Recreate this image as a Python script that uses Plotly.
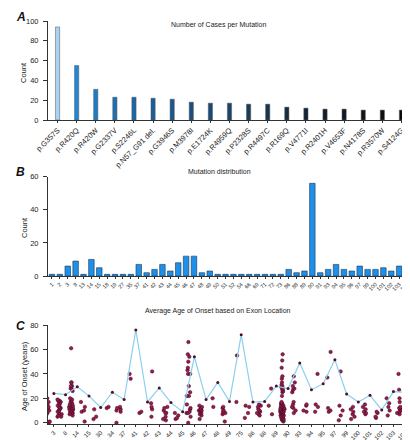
import plotly.graph_objects as go

# ---------------- Panel A data ----------------
mutations = ["p.G357S", "p.R420Q", "p.R420W", "p.G2337V", "p.S2246L", "p.N57_G91 del.",
             "p.G3946S", "p.M3978I", "p.E1724K", "p.R4959Q", "p.P2328S", "p.R4497C",
             "p.R169Q", "p.V4771I", "p.R2401H", "p.V4653F", "p.N4178S", "p.R3570W", "p.S4124G"]
cases = [94, 55, 31, 23, 23, 22, 21, 18, 17, 17, 16, 16, 13, 12, 11, 11, 10, 10, 10]

# ---------------- Panel B data ----------------
exons_b = ["1", "2", "3", "8", "13", "14", "15", "18", "19", "27", "35", "37", "41", "42", "43",
           "44", "45", "46", "47", "48", "49", "50", "51", "52", "54", "66", "69", "71", "72", "73",
           "86", "88", "89", "90", "91", "93", "94", "95", "96", "97", "99", "100", "101", "102",
           "103", "105"]
counts_b = [1, 1, 6, 9, 1, 10, 5, 1, 1, 1, 1, 7, 2, 4, 7, 3, 8, 12, 12, 2, 3, 1, 1, 1, 1, 1, 1,
            1, 1, 1, 4, 2, 3, 56, 2, 4, 7, 4, 3, 6, 4, 4, 5, 3, 6, 4]

# ---------------- Panel C data ----------------
exons_c = ["3", "8", "14", "15", "30", "34", "37", "41", "42", "43", "44", "45", "46", "47", "48",
           "49", "75", "86", "88", "89", "90", "93", "94", "95", "97", "99", "100", "101", "102",
           "103", "105"]
mean_age = [24, 23, 29.5, 22, 12.5, 25, 19, 76, 17, 28.5, 16.5, 9, 54, 19, 33, 17.5, 72, 17, 17.5,
            30, 28, 49, 27, 32, 51.5, 23.5, 17, 22.5, 10.5, 25.5, 25]
ages_3 = [20, 17, 16, 15, 13, 12, 10, 8, 6, 1, 1, 0.5]
ages_8 = [19, 18, 18, 17, 16, 15, 14, 13, 12, 12, 11, 10, 9, 8, 7, 6, 5, 5]
ages_14 = [61, 33, 33, 30, 30, 28, 27, 26, 20, 19, 18, 17, 16, 15, 15, 14, 14, 13, 13, 12, 12,
           11, 11, 10, 10, 9, 9, 8, 8, 7, 6]
ages_15 = [17, 13, 10, 9, 1]
ages_30 = [11, 5, 3]
ages_34 = [13, 12]
ages_37 = [13, 12, 11, 10, 9, 0]
ages_41 = [40, 36]
ages_42 = [9, 8]
ages_43 = [42, 16, 13, 11, 5]
ages_44 = [13, 12, 10, 8, 8, 5, 3, 2]
ages_45 = [8, 6, 4, 3]
ages_46 = [66, 56, 54, 50, 45, 43, 40, 40, 30, 25, 22, 22, 15, 12, 11, 9, 8, 8, 5, 0]
ages_47 = [14, 13, 12, 11, 10, 10, 10, 10, 9, 8, 7, 6, 3]
ages_48 = [20, 13]
ages_49 = [13, 12, 10, 9, 8, 7, 1]
ages_75 = [55, 17]
ages_86 = [14, 13, 8, 4]
ages_88 = [15, 14, 13, 11, 10, 9, 8, 7, 6]
ages_89 = [28, 14, 7]
ages_90 = [56, 51, 45, 38, 36, 33, 31, 30, 29, 28, 27, 26, 25, 22, 17, 16, 16, 15, 15, 14, 14,
           13, 13, 12, 12, 12, 11, 11, 11, 10, 10, 10, 9, 9, 9, 8, 8, 8, 7, 7, 6, 6, 5, 5, 4, 4,
           3, 3, 2, 2, 1]
ages_93 = [38, 33, 30, 28, 27, 25, 17, 15, 13, 12, 10, 8]
ages_94 = [15, 14, 10, 9]
ages_95 = [40, 15, 13, 9]
ages_97 = [58, 37, 12, 10, 9]
ages_99 = [42, 14, 10, 6, 2]
ages_100 = [13, 11, 9, 7, 5, 3]
ages_101 = [15, 13, 11, 9, 8, 7]
ages_102 = [9, 8, 5, 4]
ages_103 = [20, 16, 13, 10, 6]
ages_105 = [40, 27, 20, 17, 13, 12, 11, 10, 9, 8, 7]

ages_by_exon = [ages_3, ages_8, ages_14, ages_15, ages_30, ages_34, ages_37, ages_41, ages_42,
                ages_43, ages_44, ages_45, ages_46, ages_47, ages_48, ages_49, ages_75, ages_86,
                ages_88, ages_89, ages_90, ages_93, ages_94, ages_95, ages_97, ages_99, ages_100,
                ages_101, ages_102, ages_103, ages_105]

pt_x, pt_y = [], []
for ex, vals in zip(exons_c, ages_by_exon):
    pt_x += [ex] * len(vals)
    pt_y += vals

# ---------------- styles ----------------
a_colors = ["#a8d3f3", "#1f87d6", "#1d7cc8", "#1b70b6", "#1a67a8", "#1a5f9a", "#1a588e",
            "#1a4f80", "#1a4974", "#1a4468", "#193c5b", "#183550", "#162d44", "#14263a",
            "#121e2e", "#101822", "#0e131a", "#0c0e12", "#0a0a0a"]
FONT = "Liberation Sans, Arial, sans-serif"
TXT = "#222222"

fig = go.Figure()
fig.add_trace(go.Bar(x=mutations, y=cases, width=0.22,
                     marker=dict(color=a_colors, line=dict(color="#555555", width=0.5)),
                     xaxis="x", yaxis="y"))
fig.add_trace(go.Bar(x=exons_b, y=counts_b, width=0.7,
                     marker=dict(color="#1e90ea", line=dict(color="#1b3550", width=0.6)),
                     xaxis="x2", yaxis="y2"))
fig.add_trace(go.Scatter(x=exons_c, y=mean_age, mode="lines+markers",
                         line=dict(color="#8ccfef", width=1.2),
                         marker=dict(size=3, color="#4a0f2a"),
                         xaxis="x3", yaxis="y3"))
fig.add_trace(go.Box(x=pt_x, y=pt_y, boxpoints="all", jitter=0.8, pointpos=-2, width=0.5,
                     fillcolor="rgba(0,0,0,0)", line=dict(width=0, color="rgba(0,0,0,0)"),
                     marker=dict(color="#9c1a4e", size=3.5, line=dict(color="#3b0a20", width=0.5)),
                     xaxis="x3", yaxis="y3"))

H = 440.0
def dom(top, bottom):
    return [(H - bottom) / H, (H - top) / H]

axis_common = dict(showline=True, linecolor="#333333", linewidth=1, ticks="outside", ticklen=3,
                   tickcolor="#333333", showgrid=False, zeroline=False, automargin=False,
                   tickfont=dict(size=7.5, color=TXT, family=FONT))
yaxis_common = dict(axis_common, ticklen=4, ticklabelstandoff=3)

fig.update_layout(
    width=410, height=440, showlegend=False,
    margin=dict(l=40, r=7, t=0, b=0),
    paper_bgcolor="white", plot_bgcolor="white",
    font=dict(family=FONT, color=TXT),
    xaxis=dict(axis_common, domain=[0, 1], anchor="y", type="category", tickangle=-45,
               categoryorder="array", categoryarray=mutations, ticklen=2),
    yaxis=dict(yaxis_common, domain=dom(13, 112), anchor="x", range=[0, 100],
               tickvals=[0, 20, 40, 60, 80, 100]),
    xaxis2=dict(axis_common, domain=[0, 1], anchor="y2", type="category", tickangle=-45,
                categoryorder="array", categoryarray=exons_b, ticklen=2,
                tickfont=dict(size=5.5, color=TXT, family=FONT)),
    yaxis2=dict(yaxis_common, domain=dom(168.7, 268), anchor="x2", range=[0, 60],
                tickvals=[0, 20, 40, 60]),
    xaxis3=dict(axis_common, domain=[0, 1], anchor="y3", type="category", tickangle=-45,
                categoryorder="array", categoryarray=exons_c, range=[-0.5, len(exons_c) - 0.5],
                ticklen=2, tickfont=dict(size=6, color=TXT, family=FONT)),
    yaxis3=dict(yaxis_common, domain=dom(317, 416), anchor="x3", range=[-1, 80],
                tickvals=[0, 20, 40, 60, 80]),
)

# place annotations in pixel terms (paper x spans the plot area)
PL, PR = 40.0, 403.0
def px_x(x):
    return (x - PL) / (PR - PL)
def px_y(y):
    return (H - y) / H

letters = [("<b><i>A</i></b>", 6, 9), ("<b><i>B</i></b>", 6, 164), ("<b><i>C</i></b>", 6, 318)]
for t, x, y in letters:
    fig.add_annotation(text=t, xref="paper", yref="paper", x=px_x(x), y=px_y(y),
                       xanchor="left", yanchor="middle", showarrow=False,
                       font=dict(size=12, color="#111111", family=FONT))

titles = [("Number of Cases per Mutation", 210, 17), ("Mutation distribution", 211, 164),
          ("Average Age of Onset based on Exon Location", 210, 303)]
for t, x, y in titles:
    fig.add_annotation(text=t, xref="paper", yref="paper", x=px_x(x), y=px_y(y),
                       xanchor="center", yanchor="middle", showarrow=False,
                       font=dict(size=7, color=TXT, family=FONT))

for txt, yc in [("Count", 65), ("Count", 220), ("Age of Onset (years)", 368)]:
    fig.add_annotation(text=txt, xref="paper", yref="paper", x=px_x(16), y=px_y(yc),
                       xanchor="center", yanchor="middle", textangle=-90, showarrow=False,
                       font=dict(size=7.5, color=TXT, family=FONT))

fig.write_html("out.html")
